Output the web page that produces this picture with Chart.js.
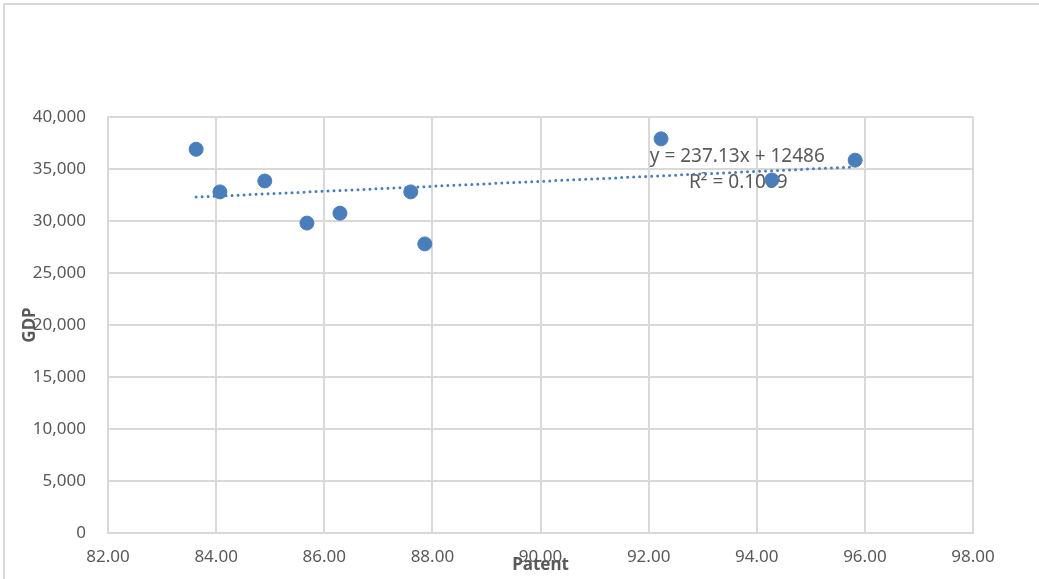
<!DOCTYPE html>
<html>
<head>
<meta charset="utf-8">
<script src="https://cdn.jsdelivr.net/npm/chart.js@4"></script>
<style>
    html, body { margin: 0; padding: 0; background: #fff; }
    #wrap { position: absolute; left: 0; top: 0; width: 1039px; height: 579px; }
    #frame { position: absolute; left: 3px; top: 3px; width: 1100px; height: 700px;
             border-top: 2px solid #d9d9d9; border-left: 2px solid #d9d9d9; }
</style>
</head>
<body>
<div id="wrap">
    <div id="frame"></div>
    <canvas id="scatterChart" width="1039" height="579"></canvas>
</div>
<script>
// Patent vs GDP readings
const patent = [83.63, 84.07, 84.90, 85.68, 86.29, 87.60, 87.86, 92.23, 94.28, 95.82]
const gdp = [36900, 32800, 33850, 29800, 30750, 32800, 27800, 37900, 33950, 35850]

// trendline end points
const trendX = [83.63, 95.82]
const trendY = [32300, 35200]

const equation = "y = 237.13x + 12486"
const rSquared = "R\u00b2 = 0.1089"

const grey = "#595959";
const font = "'Noto Sans', sans-serif";

const points = patent.map((x, i) => ({ x: x, y: gdp[i] }))
const trend = trendX.map((x, i) => ({ x: x, y: trendY[i] }))

// draw axis titles + trendline label like excel does (under the markers)
const labelsPlugin = {
    id: 'labels',
    beforeDatasetsDraw(chart) {
        const ctx = chart.ctx;
        const xs = chart.scales.x;
        const ys = chart.scales.y;
        ctx.save();
        ctx.fillStyle = grey;
        ctx.textAlign = 'center';
        ctx.textBaseline = 'middle';

        ctx.font = "19px " + font;
        ctx.fillText(equation, xs.getPixelForValue(93.64), ys.getPixelForValue(36150));
        ctx.fillText(rSquared, xs.getPixelForValue(93.66), ys.getPixelForValue(33650));

        ctx.font = "bold 17px " + font;
        ctx.fillText("Patent", (chart.chartArea.left + chart.chartArea.right) / 2, 565);

        ctx.translate(30, (chart.chartArea.top + chart.chartArea.bottom) / 2);
        ctx.rotate(-Math.PI / 2);
        ctx.fillText("GDP", 0, 0);
        ctx.restore();
    }
}

const ctx = document.getElementById('scatterChart').getContext('2d');
const scatterChart = new Chart(ctx, {
    type: 'scatter',
    data: {
        datasets: [{
            label: 'GDP',
            data: points,
            backgroundColor: '#4a7ebb',
            borderColor: '#4a7ebb',
            pointRadius: 7,
            pointHoverRadius: 7,
            order: 1,
        },
        {
            type: 'line',
            label: 'Linear (GDP)',
            data: trend,
            borderColor: '#4a7ebb',
            borderWidth: 3,
            borderDash: [0, 6],
            borderCapStyle: 'round',
            pointRadius: 0,
            fill: false,
            order: 2,
        }]
    },
    options: {
        responsive: false,
        animation: false,
        layout: {
            padding: { left: 0, right: 66, top: 117, bottom: 0 }
        },
        plugins: {
            legend: { display: false },
            tooltip: { enabled: false },
        },
        scales: {
            x: {
                type: 'linear',
                min: 82,
                max: 98,
                afterFit: (scale) => { scale.height = 46 },
                ticks: {
                    stepSize: 2,
                    padding: 14,
                    color: grey,
                    font: { family: font, size: 17 },
                    callback: (v) => v.toFixed(2),
                },
                grid: { color: '#d9d9d9', lineWidth: 2, drawTicks: false },
                border: { color: '#d9d9d9', width: 2 },
            },
            y: {
                min: 0,
                max: 40000,
                afterFit: (scale) => { scale.width = 108 },
                ticks: {
                    stepSize: 5000,
                    padding: 22,
                    color: grey,
                    font: { family: font, size: 17 },
                    callback: (v) => v.toLocaleString('en-US'),
                },
                grid: { color: '#d9d9d9', lineWidth: 2, drawTicks: false },
                border: { color: '#d9d9d9', width: 2 },
            },
        },
    },
    plugins: [labelsPlugin],
})
</script>
</body>
</html>
